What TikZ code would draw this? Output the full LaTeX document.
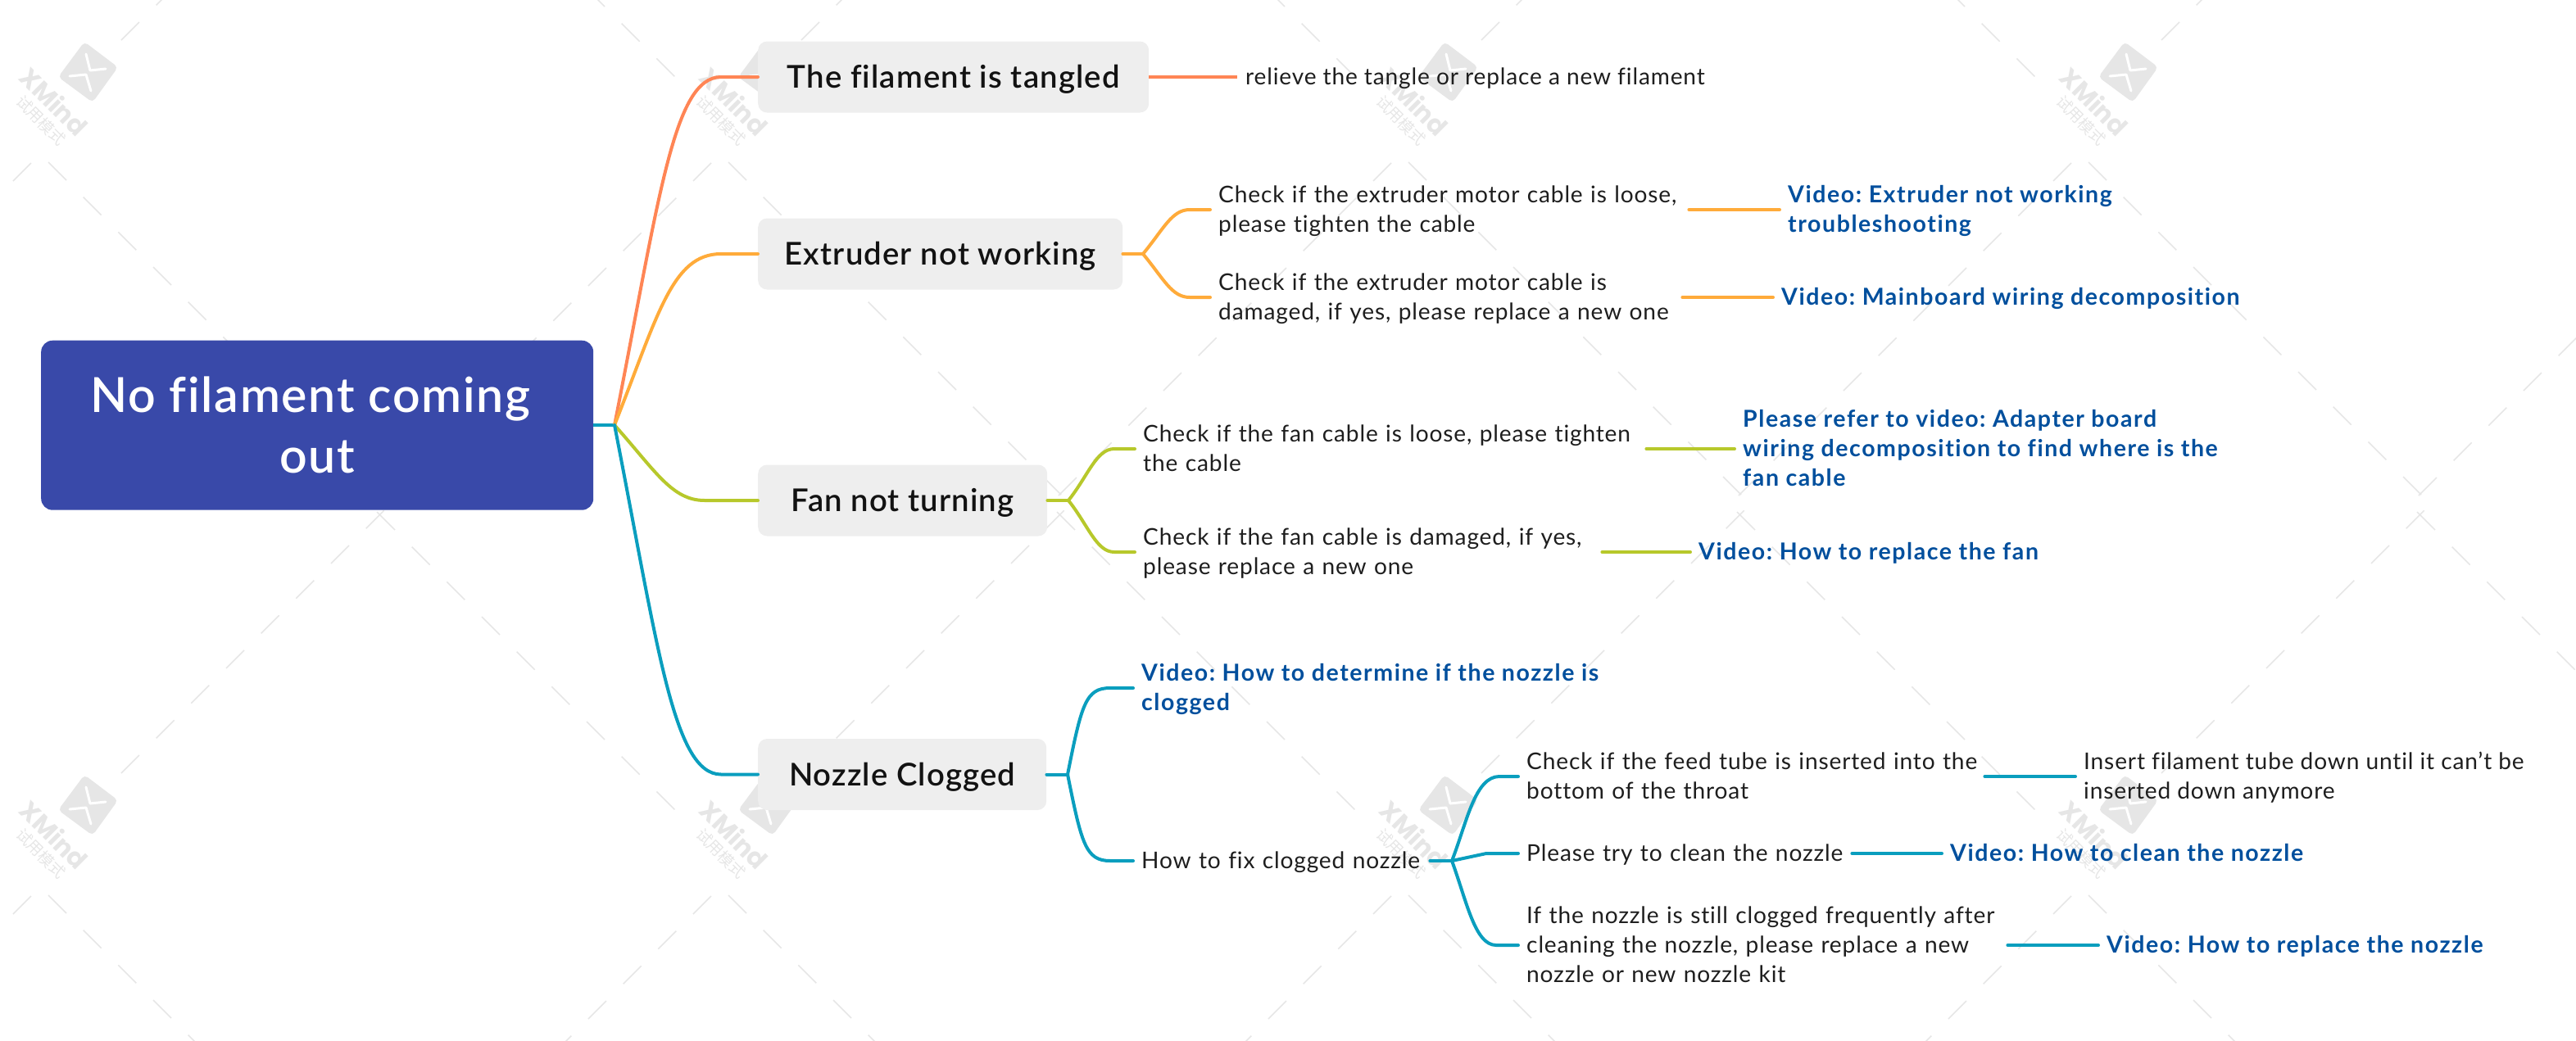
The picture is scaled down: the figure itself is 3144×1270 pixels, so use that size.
\documentclass[tikz,border=0pt]{standalone}
\usepackage{fontspec}
\setmainfont{Lato}[LetterSpace=3,Ligatures=CommonOff]
\newfontfamily\linkfont{Lato}[LetterSpace=5.5,Ligatures=CommonOff]
\newfontfamily\medfont{Lato Semibold}[LetterSpace=3,Ligatures=CommonOff]
\newfontfamily\cjkfont{Noto Sans CJK SC}
\newfontfamily\wmfont{Poppins}
\usetikzlibrary{calc}
\newcommand{\oneline}[1]{\mbox{\strut #1}}
\definecolor{rootblue}{HTML}{3949A9}
\definecolor{boxgray}{HTML}{EEEEEE}
\definecolor{linkblue}{HTML}{004F9D}
\definecolor{cOrangeRed}{HTML}{FF8555}
\definecolor{cOrange}{HTML}{FFAB3A}
\definecolor{cGreen}{HTML}{B7C82B}
\definecolor{cTeal}{HTML}{0A9EBE}
\definecolor{wmgray}{HTML}{E6E6E6}
\definecolor{inktext}{HTML}{1E1E1E}
\tikzset{
  wm/.style={draw=wmgray,line width=1.6pt},
  rootbox/.style={fill=rootblue,rounded corners=14pt,text=white,font=\medfont\fontsize{59}{74}\selectfont,align=center,inner sep=0pt},
  branchbox/.style={fill=boxgray,rounded corners=11pt,text=black!93,font=\medfont\fontsize{38.3}{40}\selectfont,inner sep=0pt,minimum height=87pt,anchor=west},
  leaf/.style={anchor=west,yshift=-2pt,inner xsep=10pt,inner ysep=0pt,align=left,text=inktext,font=\fontsize{28.1}{36}\selectfont},
  linkleaf/.style={anchor=west,yshift=-2pt,inner xsep=10pt,inner ysep=0pt,align=left,text=linkblue,font=\linkfont\bfseries\fontsize{28.5}{36}\selectfont},
  conn/.style={line width=4pt,line cap=round,line join=round},
}
\begin{document}
\frenchspacing
\begin{tikzpicture}[x=1pt,y=-1pt]
\useasboundingbox (0,0) rectangle (3144,1270);
\begin{scope}
\clip (0,0) rectangle (3144,1270);
% watermark lattice
\foreach \i in {-1,0,1,2,3}{
 \foreach \j in {-1,0,1}{
  \begin{scope}[shift={({\i*830},{\j*895})}]
   \foreach \k in {0,...,9}{
     \draw[wm] ({59+42.67*\k},{198+42.67*\k}) -- ++(22,22);
     \draw[wm] ({868-42.67*\k},{199+42.67*\k}) -- ++(-22,22);
   }
   \foreach \k in {0,...,7}{
     \draw[wm] ({148+42.67*\k},{49-42.67*\k}) -- ++(22,-22);
   }
   \foreach \k in {0,...,8}{
     \draw[wm] ({460+42.67*\k},{625+42.67*\k}) -- ++(22,22);
   }
  \end{scope}
 }
}
% watermark logos
\foreach \i in {0,1,2,3}{
 \foreach \j in {0,1}{
  \begin{scope}[shift={({\i*830},{\j*895})}]
   \fill[wmgray,rounded corners=5pt] (103,51) -- (144,82) -- (113,125) -- (71,94) -- cycle;
   \draw[white,line width=3pt,line cap=round,line join=round] (105,66) -- (110,86) -- (129,84);
   \draw[white,line width=3pt,line cap=round,line join=round] (85,93) -- (105,91) -- (111,111);
   \node[rotate=-45,text=wmgray,font=\wmfont\bfseries\fontsize{31}{31}\selectfont,inner sep=0pt] (wmx\i\j) at (66,124) {XMind};
   \node[rotate=-45,text=wmgray,font=\cjkfont\fontsize{19}{19}\selectfont,inner sep=0pt] (wmc\i\j) at (50,147) {试用模式};
  \end{scope}
 }
}
\end{scope}

% nodes
\node[rootbox,minimum width=674pt,minimum height=207pt,anchor=north west] (root) at (50,415.5) {No filament coming\hspace*{17pt}\\out};
\node[branchbox,minimum width=477pt] (b1) at (925,94) {\raisebox{-3pt}[\height][\depth]{The filament is tangled}};
\node[branchbox,minimum width=445pt] (b2) at (925,310) {\raisebox{-3pt}[\height][\depth]{Extruder not working}};
\node[branchbox,minimum width=353pt] (b3) at (925,611) {\raisebox{-3pt}[\height][\depth]{Fan not turning}};
\node[branchbox,minimum width=352pt] (b4) at (925,945.5) {\raisebox{-3pt}[\height][\depth]{Nozzle Clogged}};

\node[leaf] (t1) at (1510,94) {\oneline{relieve the tangle or replace a new filament}};
\node[leaf,text width=564pt] (e1) at (1477,256) {\oneline{Check if the extruder motor cable is loose,}\\\oneline{please tighten the cable}};
\node[linkleaf] (e1v) at (2172,256) {\oneline{Video: Extruder not working}\\\oneline{troubleshooting}};
\node[leaf,text width=556pt] (e2) at (1477,363) {\oneline{Check if the extruder motor cable is}\\\oneline{damaged, if yes, please replace a new one}};
\node[linkleaf] (e2v) at (2164,363) {\oneline{Video: Mainboard wiring decomposition}};
\node[leaf,text width=604pt] (f1) at (1385,548) {\oneline{Check if the fan cable is loose, please tighten}\\\oneline{the cable}};
\node[linkleaf] (f1v) at (2117,548) {\oneline{Please refer to video: Adapter board}\\\oneline{wiring decomposition to find where is the}\\\oneline{fan cable}};
\node[leaf,text width=550pt] (f2) at (1385,674) {\oneline{Check if the fan cable is damaged, if yes,}\\\oneline{please replace a new one}};
\node[linkleaf] (f2v) at (2063,674) {\oneline{Video: How to replace the fan}};
\node[linkleaf] (z1) at (1383,840) {\oneline{Video: How to determine if the nozzle is}\\\oneline{clogged}};
\node[leaf,text width=342pt] (z2) at (1383,1051) {\oneline{How to fix clogged nozzle}};
\node[leaf,text width=549pt] (y1) at (1853,948) {\oneline{Check if the feed tube is inserted into the}\\\oneline{bottom of the throat}};
\node[leaf] (y1a) at (2533,948) {\oneline{Insert filament tube down until it can't be}\\\oneline{inserted down anymore}};
\node[leaf,text width=387pt] (y2) at (1853,1042) {\oneline{Please try to clean the nozzle}};
\node[linkleaf] (y2v) at (2370,1042) {\oneline{Video: How to clean the nozzle}};
\node[leaf,text width=577pt] (y3) at (1853,1154) {\oneline{If the nozzle is still clogged frequently after}\\\oneline{cleaning the nozzle, please replace a new}\\\oneline{nozzle or new nozzle kit}};
\node[linkleaf] (y3v) at (2561,1154) {\oneline{Video: How to replace the nozzle}};

% junctions
\coordinate (jr) at (750,519);
\coordinate (je) at (1395,310);
\coordinate (jf) at (1304,611);
\coordinate (jn) at (1303,945.5);
\coordinate (jh) at (1772,1051);
\coordinate (q1) at (880,94);
\coordinate (q2) at (880,310);
\coordinate (q3) at (860,611);
\coordinate (q4) at (880,945.5);
\coordinate (qe1) at (1452,256);
\coordinate (qe2) at (1452,363);
\coordinate (qf1) at (1360,548);
\coordinate (qf2) at (1360,674);
\coordinate (qz1) at (1355,840);
\coordinate (qz2) at (1355,1051);
\coordinate (qy1) at (1830,948);
\coordinate (qy2) at (1814,1042);
\coordinate (qy3) at (1826,1154);

% connectors
\draw[conn,cTeal,line cap=butt] (root.east |- jr) -- (jr);
\draw[conn,cOrangeRed] (jr) .. controls (805,240) and (822,94) .. (q1) -- (b1.west);
\draw[conn,cOrange] (jr) .. controls (803,385) and (820,310) .. (q2) -- (b2.west);
\draw[conn,cGreen] (jr) .. controls (800,575) and (820,611) .. (q3) -- (b3.west);
\draw[conn,cTeal] (jr) .. controls (803,790) and (822,945.5) .. (q4) -- (b4.west);

\draw[conn,cOrangeRed,line cap=butt] (b1.east) -- ([yshift=2pt]t1.west);
\draw[conn,cOrange] (b2.east) -- (je);
\draw[conn,cOrange] (je) .. controls (1420,280) and (1430,256) .. (qe1) -- (e1.west |- qe1);
\draw[conn,cOrange] (je) .. controls (1420,340) and (1430,363) .. (qe2) -- (e2.west |- qe2);
\draw[conn,cOrange] ([yshift=2pt]e1.east) -- ([yshift=2pt]e1v.west);
\draw[conn,cOrange] ([yshift=2pt]e2.east) -- ([yshift=2pt]e2v.west);

\draw[conn,cGreen] (b3.east) -- (jf);
\draw[conn,cGreen] (jf) .. controls (1328,581) and (1338,548) .. (qf1) -- (f1.west |- qf1);
\draw[conn,cGreen] (jf) .. controls (1328,641) and (1338,674) .. (qf2) -- (f2.west |- qf2);
\draw[conn,cGreen] ([yshift=2pt]f1.east) -- ([yshift=2pt]f1v.west);
\draw[conn,cGreen] ([yshift=2pt]f2.east) -- ([yshift=2pt]f2v.west);

\draw[conn,cTeal] (b4.east) -- (jn);
\draw[conn,cTeal] (jn) .. controls (1320,860) and (1325,840) .. (qz1) -- (z1.west |- qz1);
\draw[conn,cTeal] (jn) .. controls (1320,1030) and (1325,1051) .. (qz2) -- (z2.west |- qz2);
\draw[conn,cTeal] ([yshift=2pt]z2.east) -- (jh);
\draw[conn,cTeal] (jh) .. controls (1790,1005) and (1800,948) .. (qy1) -- (y1.west |- qy1);
\draw[conn,cTeal] (jh) -- (qy2) -- (y2.west |- qy2);
\draw[conn,cTeal] (jh) .. controls (1790,1100) and (1800,1154) .. (qy3) -- (y3.west |- qy3);
\draw[conn,cTeal] ([yshift=2pt]y1.east) -- ([yshift=2pt]y1a.west);
\draw[conn,cTeal] ([yshift=2pt]y2.east) -- ([yshift=2pt]y2v.west);
\draw[conn,cTeal] ([yshift=2pt]y3.east) -- ([yshift=2pt]y3v.west);
\end{tikzpicture}
\end{document}
